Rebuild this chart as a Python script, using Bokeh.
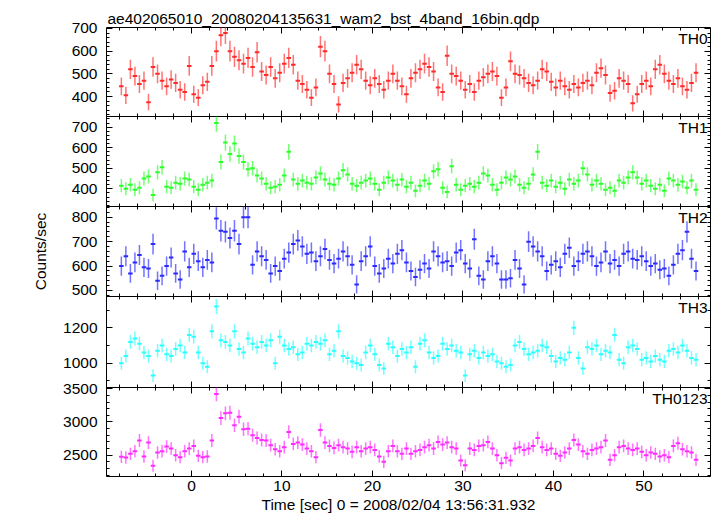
import numpy as np
from bokeh.plotting import figure
from bokeh.layouts import column
from bokeh.models import Range1d, LinearAxis, SingleIntervalTicker, Label, ColumnDataSource, Title
from bokeh.embed import file_html
from bokeh.resources import INLINE

TITLE = "ae402065010_20080204135631_wam2_bst_4band_16bin.qdp"
X_LABEL = "Time [sec] 0 = 2008/02/04 13:56:31.932"
Y_LABEL = "Counts/sec"
BANDS = ["TH0", "TH1", "TH2", "TH3", "TH0123"]
COLORS = ["#ff2a2a", "#2aff2a", "#2a2aff", "#2affff", "#ff2aff"]

BIN_START = -8.0
BIN_WIDTH = 0.5

TH0 = [445, 405, 520, 490, 455, 470, 375, 530,
       500, 470, 445, 475, 460, 430, 420, 535,
       410, 395, 450, 465, 535, 600, 670, 680,
       600, 575, 560, 545, 570, 530, 595, 510,
       495, 530, 480, 505, 545, 570, 540, 470,
       455, 430, 395, 440, 620, 600, 500, 455,
       365, 460, 480, 505, 540, 520, 470, 450,
       480, 455, 430, 470, 500, 470, 445, 410,
       480, 505, 520, 545, 530, 510, 440, 420,
       580, 500, 490, 470, 430, 455, 420, 470,
       485, 500, 510, 490, 395, 440, 555, 500,
       495, 480, 460, 450, 470, 520, 510, 465,
       440, 470, 445, 430, 455, 440, 460, 470,
       450, 505, 525, 495, 415, 425, 480, 470,
       455, 370, 410, 455, 470, 445, 520, 540,
       500, 470, 455, 480, 445, 430, 460, 505]

TH1 = [415, 400, 420, 395, 405, 450, 460, 370,
       480, 505, 410, 405, 430, 425, 450, 445,
       410, 395, 420, 430, 440, 720, 530, 625,
       570, 620, 560, 530, 495, 500, 465, 450,
       425, 405, 410, 420, 465, 580, 445, 425,
       440, 430, 425, 455, 475, 445, 425, 420,
       450, 490, 470, 425, 415, 430, 440, 450,
       425, 395, 430, 455, 440, 420, 445, 410,
       430, 390, 415, 440, 425, 485, 495, 405,
       385, 510, 420, 395, 415, 425, 410, 430,
       475, 465, 420, 395, 430, 455, 445, 460,
       420, 405, 425, 470, 580, 430, 415, 440,
       410, 430, 400, 445, 425, 440, 500, 470,
       420, 440, 425, 395, 405, 390, 440, 430,
       455, 480, 455, 425, 440, 415, 400, 420,
       390, 450, 440, 420, 435, 405, 440, 395]

TH2 = [600, 640, 570, 615, 645, 595, 590, 690,
       540, 560, 600, 635, 570, 545, 660, 595,
       650, 620, 595, 625, 615, 795, 745, 740,
       715, 745, 690, 800, 800, 605, 660, 640,
       625, 570, 600, 580, 630, 655, 690, 705,
       680, 650, 655, 620, 640, 670, 625, 610,
       630, 660, 640, 605, 525, 620, 640, 680,
       600, 570, 590, 630, 610, 650, 665, 615,
       580, 555, 585, 610, 590, 660, 640, 615,
       620, 600, 655, 665, 610, 590, 710, 560,
       545, 620, 640, 610, 545, 545, 550, 625,
       590, 525, 700, 680, 660, 640, 580, 605,
       620, 595, 650, 675, 600, 620, 650, 660,
       640, 600, 615, 660, 610, 625, 600, 650,
       660, 630, 625, 640, 620, 600, 610, 585,
       590, 560, 605, 650, 665, 740, 630, 580]

TH3 = [1000, 1040, 1120, 1140, 1110, 1060, 1040, 930,
       1070, 1100, 1050, 1040, 1080, 1100, 1060, 1160,
       1150, 1060, 1000, 980, 1180, 1320, 1130, 1120,
       1100, 1180, 1080, 1060, 1140, 1110, 1090, 1120,
       1100, 1130, 1000, 1150, 1100, 1080, 1090, 1050,
       1060, 1110, 1100, 1120, 1110, 1130, 1050, 1070,
       1180, 1040, 1030, 1010, 1000, 990, 1060, 1100,
       1050, 990, 970, 1110, 1090, 1040, 1080, 1060,
       1090, 980, 1110, 1130, 1060, 1030, 1040, 1110,
       1080, 1100, 1070, 1060, 930, 1050, 1070, 1030,
       1060, 1040, 1050, 1010, 1000, 980, 990, 1100,
       1120, 1080, 1050, 1060, 1070, 1100, 1090, 1040,
       1010, 1030, 1020, 1060, 1200, 1030, 970, 1090,
       1080, 1100, 1050, 1070, 1060, 1160, 1020, 1000,
       1090, 1100, 1080, 1020, 1030, 1010, 1040, 1020,
       1010, 1070, 1080, 1060, 1100, 1070, 1030, 1020]

TH0123 = [2475, 2465, 2520, 2560, 2720, 2480, 2690, 2340,
          2540, 2560, 2630, 2600, 2500, 2470, 2560, 2600,
          2640, 2490, 2470, 2480, 2720, 3420, 3060, 3130,
          3140, 2950, 3080, 2890, 2900, 2800, 2760, 2730,
          2720, 2650, 2590, 2560, 2620, 2850, 2670, 2690,
          2660, 2600, 2560, 2470, 2880, 2690, 2640, 2610,
          2650, 2620, 2600, 2550, 2620, 2560, 2600, 2620,
          2580, 2480, 2400, 2560, 2640, 2560, 2520, 2600,
          2520, 2560, 2580, 2620, 2650, 2600, 2700, 2660,
          2690, 2620, 2600, 2420, 2350, 2600, 2580, 2640,
          2650, 2700, 2600, 2500, 2380, 2460, 2420, 2600,
          2620, 2580, 2600, 2640, 2760, 2620, 2580, 2600,
          2520, 2490, 2540, 2600, 2730, 2660, 2560, 2520,
          2580, 2600, 2620, 2720, 2430, 2500, 2620, 2640,
          2600, 2580, 2600, 2550, 2500, 2540, 2520, 2480,
          2500, 2470, 2640, 2680, 2590, 2560, 2540, 2430]

SERIES = [TH0, TH1, TH2, TH3, TH0123]
# typical 1-sigma error read at a typical rate in each panel
ERR_TYP = [40, 33, 40, 38, 95]
RATE_TYP = [460, 430, 615, 1060, 2580]

X_RANGE = (-9.39, 57.35)
Y_RANGES = [(311.8, 704.4), (313.8, 752.0), (475.4, 843.8), (862.7, 1376.8), (2179.0, 3519.6)]
Y_TICK = [100, 100, 100, 200, 500]
Y_MINOR = [5, 5, 5, 2, 5]
X_TICK = 10
X_MINOR = 5

W = 717
ML, MR = 106, 7
FRAME_H = [89, 90, 90, 91, 89]
TOP_BORDER = 27
BOTTOM_BORDER = 40
E = 12  # overlap so that edge tick labels are not cut
FONT = "Liberation Sans"
FS = "15.5px"


def tick_axis(ax):
    ax.major_tick_in = 6
    ax.major_tick_out = 0
    ax.minor_tick_in = 3
    ax.minor_tick_out = 0
    ax.axis_line_color = None
    ax.major_tick_line_color = "black"
    ax.minor_tick_line_color = "black"
    ax.major_label_text_color = None
    ax.major_label_standoff = 0


def label_axis(ax, standoff):
    ax.major_tick_in = 0
    ax.major_tick_out = 0
    ax.minor_tick_in = 0
    ax.minor_tick_out = 0
    ax.axis_line_color = None
    ax.major_tick_line_color = None
    ax.minor_tick_line_color = None
    ax.major_label_text_font = FONT
    ax.major_label_text_font_size = FS
    ax.major_label_text_color = "black"
    ax.major_label_standoff = standoff


xr = Range1d(*X_RANGE)
n = len(BANDS)
figs = []
for k in range(n):
    top = TOP_BORDER if k == 0 else E
    bottom = BOTTOM_BORDER if k == n - 1 else E
    yr = Range1d(*Y_RANGES[k])
    p = figure(width=W, height=FRAME_H[k] + top + bottom, x_range=xr, y_range=yr,
               output_backend="svg", toolbar_location=None,
               x_axis_location=None, y_axis_location=None,
               min_border_left=ML, min_border_right=MR,
               min_border_top=top, min_border_bottom=bottom)
    p.margin = (0 if k == 0 else -E, 0, 0 if k == n - 1 else -E, 0)
    p.grid.visible = False
    p.outline_line_color = "black"
    p.outline_line_width = 1
    p.background_fill_color = None
    p.border_fill_color = None

    ytk = dict(interval=Y_TICK[k], num_minor_ticks=Y_MINOR[k])
    xtk = dict(interval=X_TICK, num_minor_ticks=X_MINOR)

    # y tick labels (left)
    la = LinearAxis(ticker=SingleIntervalTicker(**ytk))
    label_axis(la, 9)
    if k == 2:
        la.axis_label = Y_LABEL
        la.axis_label_text_font = FONT
        la.axis_label_text_font_size = FS
        la.axis_label_text_font_style = "normal"
        la.axis_label_text_color = "black"
        la.axis_label_standoff = 20
    p.add_layout(la, "left")

    # inward ticks on all four sides
    for side, loc, tk in (("left", X_RANGE[0], ytk), ("right", X_RANGE[1], ytk),
                          ("above", Y_RANGES[k][1], xtk), ("below", Y_RANGES[k][0], xtk)):
        ax = LinearAxis(ticker=SingleIntervalTicker(**tk), fixed_location=loc)
        tick_axis(ax)
        p.add_layout(ax, side)

    if k == 0:
        p.title = Title(text=TITLE, align="left", offset=1, standoff=2,
                        text_font=FONT, text_font_size=FS, text_font_style="normal",
                        text_color="black")
    if k == n - 1:
        ba = LinearAxis(ticker=SingleIntervalTicker(**xtk))
        label_axis(ba, 4)
        p.add_layout(ba, "below")
        p.add_layout(Title(text=X_LABEL, align="left", offset=155, standoff=0,
                           text_font=FONT, text_font_size=FS, text_font_style="normal",
                           text_color="black"), "below")

    vals = np.array(SERIES[k], dtype=float)
    t = BIN_START + BIN_WIDTH * (np.arange(len(vals)) + 0.5)
    err = ERR_TYP[k] * np.sqrt(vals / RATE_TYP[k])
    src = ColumnDataSource(dict(t=t, x0=t - BIN_WIDTH / 2, x1=t + BIN_WIDTH / 2,
                                y=vals, lo=vals - err, hi=vals + err))
    p.segment(x0="t", y0="lo", x1="t", y1="hi", source=src,
              line_color=COLORS[k], line_alpha=0.65, line_width=1.5)
    p.segment(x0="x0", y0="y", x1="x1", y1="y", source=src,
              line_color=COLORS[k], line_alpha=1.0, line_width=2.0)

    fw = W - ML - MR
    p.add_layout(Label(x=fw - 3, y=FRAME_H[k] - 2, x_units="screen", y_units="screen",
                       text=BANDS[k], text_align="right", text_baseline="top",
                       text_font=FONT, text_font_size=FS, text_color="black"))
    figs.append(p)

layout = column(*figs, spacing=0)
open("out.html", "w").write(file_html(layout, INLINE))
